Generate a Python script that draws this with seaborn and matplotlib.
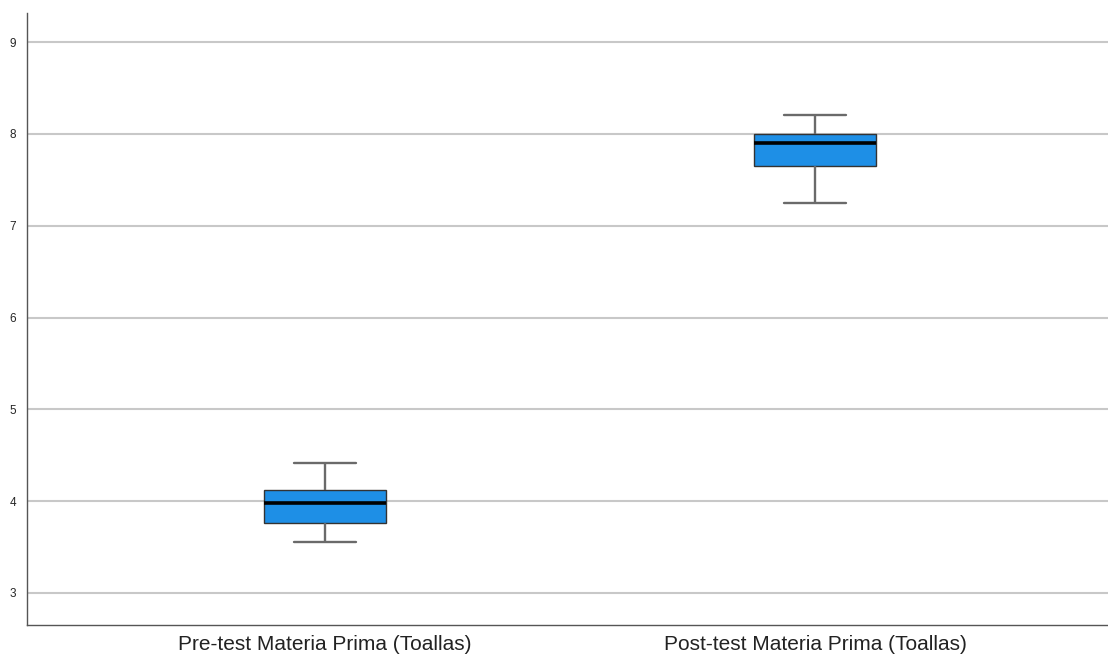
import numpy as np
import pandas as pd
import seaborn as sns
import matplotlib.pyplot as plt

# Five-number summaries per group: min, Q1, median, Q3, max
categories = ["Pre-test Materia Prima (Toallas)", "Post-test Materia Prima (Toallas)"]
pre_values = [3.55, 3.765, 3.975, 4.12, 4.41]
post_values = [7.25, 7.655, 7.905, 8.00, 8.21]

df = pd.DataFrame({
    "grupo": [categories[0]] * len(pre_values) + [categories[1]] * len(post_values),
    "valor": pre_values + post_values,
})

sns.set_style("white")
plt.rcParams["font.family"] = ["Liberation Sans", "DejaVu Sans"]

fig = plt.figure(figsize=(11.08, 6.55), dpi=100)
ax = fig.add_axes([0.0244, 0.0458, 0.9756, 0.9347])

ax.set_axisbelow(True)
for t in range(3, 10):
    ax.axhline(t, color="#c8c8c8", lw=1.5, zorder=0)

sns.boxplot(
    data=df, x="grupo", y="valor", order=categories, ax=ax,
    whis=(0, 100), width=0.25, color="#1E8FE6", saturation=1,
    linecolor="#333333", linewidth=1.0,
    whiskerprops=dict(color="#6a6a6a", linewidth=1.7),
    capprops=dict(color="#6a6a6a", linewidth=1.7),
    medianprops=dict(color="black", linewidth=2.6),
    boxprops=dict(edgecolor="#333333", linewidth=1.0),
    showfliers=False,
)

ax.set_xlim(-0.608, 1.598)
ax.set_ylim(2.65, 9.32)
ax.set_yticks(range(3, 10))
ax.set_xlabel("")
ax.set_ylabel("")
ax.tick_params(axis="y", labelsize=8.5, length=0, pad=8)
ax.tick_params(axis="x", labelsize=15, length=0, pad=7)
for lab in ax.get_xticklabels():
    lab.set_color("#222222")

for side in ("top", "right"):
    ax.spines[side].set_visible(False)
for side in ("left", "bottom"):
    ax.spines[side].set_color("#555555")
    ax.spines[side].set_linewidth(1.0)

fig.savefig("out.png", dpi=100)
